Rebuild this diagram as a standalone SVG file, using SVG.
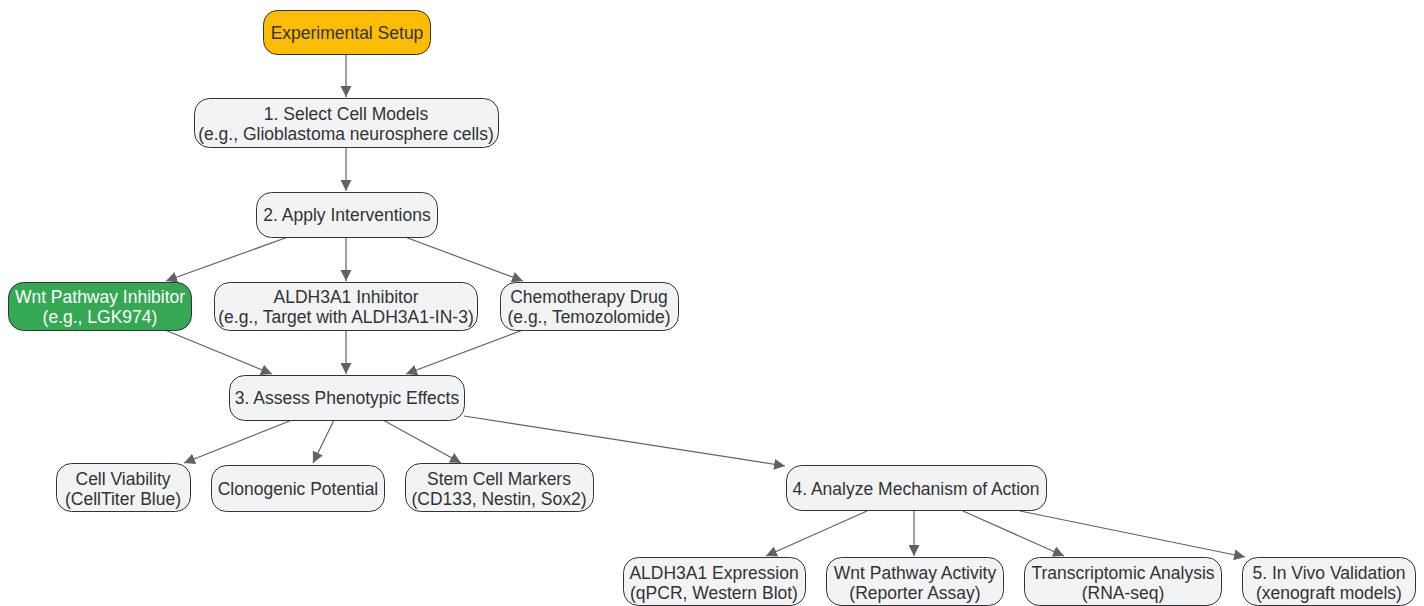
<svg xmlns="http://www.w3.org/2000/svg" width="1424" height="606" viewBox="0 0 1424 606">
<defs>
<style>
.n rect{fill:#f1f3f4;stroke:#333;stroke-width:1}
.n text{font-family:"Liberation Sans",Arial,sans-serif;font-size:17.5px;fill:#333;text-anchor:middle}
.e line{stroke:#5f6368;stroke-width:1.2;marker-end:url(#ah)}
</style>
<marker id="ah" viewBox="0 0 10 10" refX="10" refY="5" markerWidth="11" markerHeight="11" markerUnits="userSpaceOnUse" orient="auto"><path d="M0,0 L10,5 L0,10 z" fill="#5f6368"/></marker>
</defs>
<rect width="1424" height="606" fill="#fff"/>
<g class="e">
<line x1="346" y1="54" x2="346" y2="97"/>
<line x1="346" y1="147" x2="346" y2="191"/>
<line x1="288" y1="237" x2="166" y2="281"/>
<line x1="346" y1="237" x2="346" y2="281"/>
<line x1="405" y1="237" x2="523" y2="281"/>
<line x1="165" y1="330" x2="272" y2="374"/>
<line x1="346" y1="330" x2="346" y2="374"/>
<line x1="523" y1="330" x2="406" y2="374"/>
<line x1="292" y1="420" x2="184" y2="463"/>
<line x1="334" y1="420" x2="313" y2="463"/>
<line x1="383" y1="420" x2="461" y2="463"/>
<line x1="464" y1="416" x2="785" y2="466"/>
<line x1="867" y1="511" x2="766" y2="556"/>
<line x1="914" y1="511" x2="914" y2="556"/>
<line x1="963" y1="511" x2="1064" y2="556"/>
<line x1="1020" y1="511" x2="1245" y2="557"/>
</g>
<g id="setup" class="n"><rect x="263.5" y="10.5" width="167" height="44" rx="14" style="fill:#fbbc04"/><text x="347" y="39">Experimental Setup</text></g>
<g id="select" class="n"><rect x="194.5" y="98.5" width="304" height="49" rx="15"/><text x="346" y="120">1. Select Cell Models</text><text x="346" y="140">(e.g., Glioblastoma neurosphere cells)</text></g>
<g id="apply" class="n"><rect x="256.5" y="192.5" width="181" height="45" rx="15"/><text x="347" y="221">2. Apply Interventions</text></g>
<g id="wnt" class="n"><rect x="8.5" y="282.5" width="183" height="48" rx="15" style="fill:#34a853"/><text x="100" y="303" style="fill:#fff">Wnt Pathway Inhibitor</text><text x="100" y="323" style="fill:#fff">(e.g., LGK974)</text></g>
<g id="aldh" class="n"><rect x="214.5" y="282.5" width="263" height="48" rx="15"/><text x="346" y="303">ALDH3A1 Inhibitor</text><text x="346" y="323">(e.g., Target with ALDH3A1-IN-3)</text></g>
<g id="chemo" class="n"><rect x="500.5" y="282.5" width="178" height="48" rx="15"/><text x="589" y="303">Chemotherapy Drug</text><text x="589" y="323">(e.g., Temozolomide)</text></g>
<g id="assess" class="n"><rect x="229.5" y="375.5" width="235" height="45" rx="15"/><text x="347" y="404">3. Assess Phenotypic Effects</text></g>
<g id="viab" class="n"><rect x="56.5" y="463.5" width="134" height="48" rx="15"/><text x="123" y="485">Cell Viability</text><text x="123" y="505">(CellTiter Blue)</text></g>
<g id="clono" class="n"><rect x="211.5" y="465.5" width="173" height="46" rx="15"/><text x="298" y="495">Clonogenic Potential</text></g>
<g id="stem" class="n"><rect x="405.5" y="463.5" width="188" height="48" rx="15"/><text x="499" y="485">Stem Cell Markers</text><text x="499" y="505">(CD133, Nestin, Sox2)</text></g>
<g id="mech" class="n"><rect x="786.5" y="465.5" width="260" height="45" rx="15"/><text x="916" y="495">4. Analyze Mechanism of Action</text></g>
<g id="aexpr" class="n"><rect x="623.5" y="557.5" width="182" height="48" rx="15"/><text x="714" y="579">ALDH3A1 Expression</text><text x="714" y="599">(qPCR, Western Blot)</text></g>
<g id="wact" class="n"><rect x="826.5" y="557.5" width="177" height="48" rx="15"/><text x="915" y="579">Wnt Pathway Activity</text><text x="915" y="599">(Reporter Assay)</text></g>
<g id="trans" class="n"><rect x="1024.5" y="557.5" width="197" height="48" rx="15"/><text x="1123" y="579">Transcriptomic Analysis</text><text x="1123" y="599">(RNA-seq)</text></g>
<g id="vivo" class="n"><rect x="1242.5" y="557.5" width="173" height="48" rx="15"/><text x="1329" y="579">5. In Vivo Validation</text><text x="1329" y="599">(xenograft models)</text></g>
</svg>
